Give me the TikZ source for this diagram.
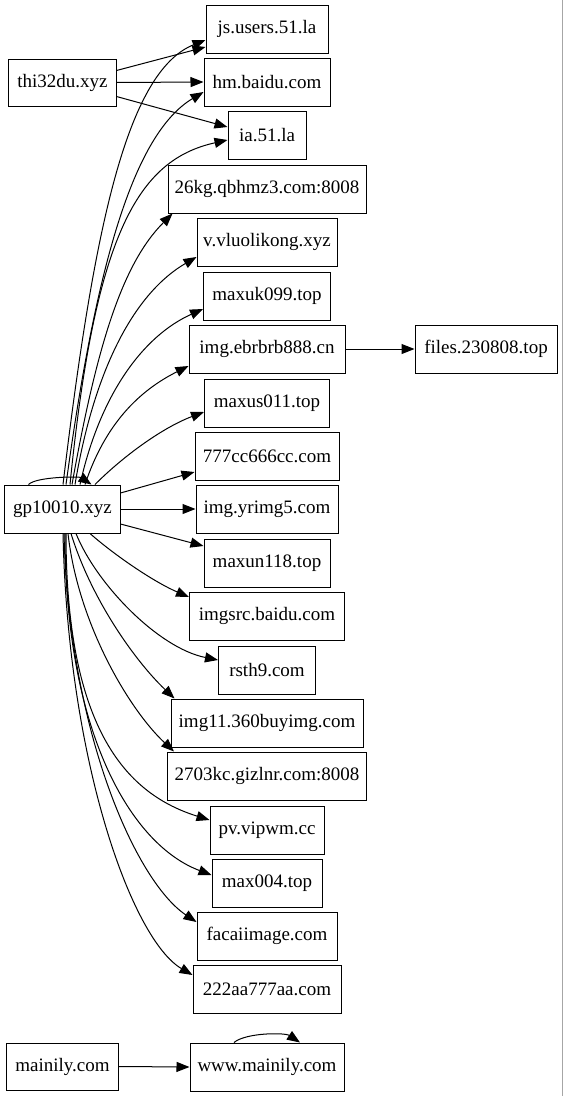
\documentclass[tikz,border=0pt]{standalone}
\usepackage{fontspec}
\setmainfont{Liberation Serif}
\usetikzlibrary{arrows.meta,calc}
\begin{document}
\begin{tikzpicture}[x=1bp,y=-1bp,
  box/.style={draw=black, line width=1bp, minimum height=48bp, inner sep=0pt,
    font=\fontsize{19bp}{22bp}\selectfont},
  edge/.style={draw=black, line width=1bp, -{Triangle[length=13bp,width=10bp]}}]
\useasboundingbox (0,0) rectangle (563,1096);
\fill[white] (0,0) rectangle (563,1096);
\draw[black!35, line width=1bp] (562.5,0) -- (562.5,1096);
% left column
\node[box, minimum width=107bp, minimum height=47bp] (thi) at (62.5,82.5) {thi32du.xyz};
\node[box, minimum width=115bp] (gp) at (62.5,509) {gp10010.xyz};
\node[box, minimum width=111bp, minimum height=47bp] (mai) at (62.5,1066.5) {mainily.com};
% right column
\node[box, minimum width=122bp] (js) at (267,29) {js.users.51.la};
\node[box, minimum width=126bp] (hm) at (267,82) {hm.baidu.com};
\node[box, minimum width=78bp] (ia) at (267,135) {ia.51.la};
\node[box, minimum width=198bp] (kg) at (267,189) {26kg.qbhmz3.com:8008};
\node[box, minimum width=140bp] (vv) at (267,242) {v.vluolikong.xyz};
\node[box, minimum width=127bp] (muk) at (267,296) {maxuk099.top};
\node[box, minimum width=156bp] (ebr) at (267,349) {img.ebrbrb888.cn};
\node[box, minimum width=142bp] (files) at (486,349) {files.230808.top};
\node[box, minimum width=125bp] (mus) at (267,403) {maxus011.top};
\node[box, minimum width=144bp] (c777) at (267,456) {777cc666cc.com};
\node[box, minimum width=142bp] (yr) at (267,509) {img.yrimg5.com};
\node[box, minimum width=126bp] (mun) at (267,563) {maxun118.top};
\node[box, minimum width=155bp] (isrc) at (267,616) {imgsrc.baidu.com};
\node[box, minimum width=97bp] (rs) at (267,670) {rsth9.com};
\node[box, minimum width=192bp] (i11) at (267,723) {img11.360buyimg.com};
\node[box, minimum width=199bp] (k27) at (267,776) {2703kc.gizlnr.com:8008};
\node[box, minimum width=114bp] (pv) at (267,830) {pv.vipwm.cc};
\node[box, minimum width=110bp] (m004) at (267,883) {max004.top};
\node[box, minimum width=140bp] (fc) at (267,936) {facaiimage.com};
\node[box, minimum width=148bp] (a222) at (267,989) {222aa777aa.com};
\node[box, minimum width=154bp] (www) at (267,1067) {www.mainily.com};
% thi32du edges
\draw[edge] ($(thi.east)+(0,-12)$) -- ($(js.west)+(0,18)$);
\draw[edge] (thi.east) -- (hm.west);
\draw[edge] ($(thi.east)+(0,14)$) -- ($(ia.west)+(0,-8)$);
% gp upward edges
\draw[edge] ($(gp.north)+(0.5,0)$) .. controls +(30,-250) and +(-80,32) .. ($(js.west)+(0,11)$);
\draw[edge] ($(gp.north)+(3.5,0)$) .. controls +(30,-220) and +(-70,42) .. ($(hm.west)+(0,10)$);
\draw[edge] ($(gp.north)+(7.5,0)$) .. controls +(25,-250) and +(-90,20) .. ($(ia.west)+(0,5)$);
\draw[edge] ($(gp.north)+(9.5,0)$) .. controls +(25,-140) and +(-50,50) .. ($(kg.south west)+(5,0)$);
\draw[edge] ($(gp.north)+(12.5,0)$) .. controls +(20,-120) and +(-60,35) .. ($(vv.west)+(0,15)$);
\draw[edge] ($(gp.north)+(17.5,0)$) .. controls +(20,-90) and +(-60,27) .. ($(muk.west)+(0,13)$);
\draw[edge] ($(gp.north)+(22.5,0)$) .. controls +(20,-60) and +(-50,25) .. ($(ebr.west)+(0,17)$);
\draw[edge] ($(gp.north)+(32.5,0)$) .. controls +(30,-30) and +(-40,15) .. ($(mus.west)+(0,9)$);
\draw[edge] ($(gp.east)+(0,-16)$) -- ($(c777.west)+(0,16)$);
\draw[edge] (gp.east) -- (yr.west);
\draw[edge] ($(gp.east)+(0,15)$) -- ($(mun.west)+(0,-17)$);
% gp downward edges
\draw[edge] ($(gp.south)+(27.5,0)$) .. controls +(25,22) and +(-35,-15) .. ($(isrc.west)+(0,-19)$);
\draw[edge] ($(gp.south)+(13.5,0)$) .. controls +(20,50) and +(-60,-12) .. ($(rs.west)+(0,-10)$);
\draw[edge] ($(gp.south)+(8.5,0)$) .. controls +(20,65) and +(-40,-38) .. ($(i11.north west)+(4,0)$);
\draw[edge] ($(gp.south)+(5.5,0)$) .. controls +(10,90) and +(-45,-42) .. ($(k27.north west)+(7,0)$);
\draw[edge] ($(gp.south)+(3.5,0)$) .. controls +(0,200) and +(-80,-25) .. ($(pv.west)+(0,-10)$);
\draw[edge] ($(gp.south)+(2.5,0)$) .. controls +(0,200) and +(-80,-30) .. ($(m004.west)+(0,-8)$);
\draw[edge] ($(gp.south)+(1.5,0)$) .. controls +(5,200) and +(-60,-40) .. ($(fc.west)+(0,-14)$);
\draw[edge] ($(gp.south)+(0.5,0)$) .. controls +(5,230) and +(-60,-35) .. ($(a222.west)+(0,-14)$);
% self loops
\draw[edge] ($(gp.north)+(-34,0)$) .. controls +(8,-8) and +(-12,-8) .. ($(gp.north)+(29,0)$);
\draw[edge] ($(www.north)+(-33,0)$) .. controls +(12,-10) and +(-15,-10) .. ($(www.north)+(33,0)$);
% other edges
\draw[edge] (ebr.east) -- (files.west);
\draw[edge] (mai.east) -- (www.west);
\end{tikzpicture}
\end{document}
